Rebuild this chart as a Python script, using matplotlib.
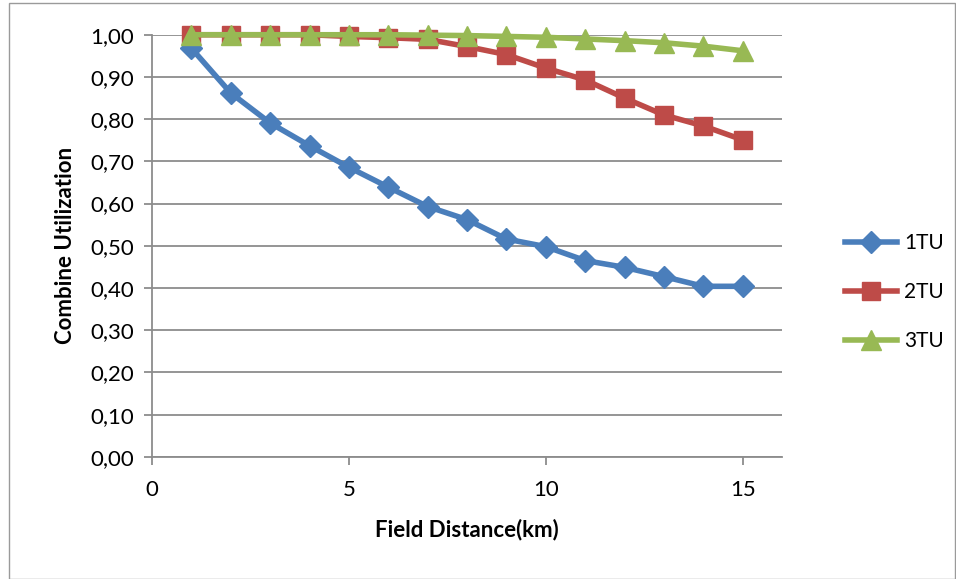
import matplotlib.pyplot as plt
from matplotlib.patches import Rectangle
from matplotlib.ticker import FuncFormatter

plt.rcParams['font.family'] = ['Lato', 'DejaVu Sans']

distance = [1, 2, 3, 4, 5, 6, 7, 8, 9, 10, 11, 12, 13, 14, 15]
tu1 = [0.968, 0.862, 0.791, 0.737, 0.686, 0.639, 0.593, 0.562, 0.516, 0.498,
       0.465, 0.449, 0.427, 0.404, 0.404]
tu2 = [1.0, 1.0, 1.0, 1.0, 0.996, 0.993, 0.989, 0.972, 0.953, 0.921,
       0.893, 0.850, 0.810, 0.784, 0.751]
tu3 = [1.0, 1.0, 1.0, 1.0, 1.0, 1.0, 0.999, 0.998, 0.996, 0.994,
       0.990, 0.986, 0.981, 0.973, 0.962]
labels = ['1TU', '2TU', '3TU']

fig = plt.figure(figsize=(9.56, 5.79), dpi=100)
ax = fig.add_axes([0.159, 0.211, 0.659, 0.729])

# light frame around the whole chart
fig.patches.append(Rectangle((0.009, 0.0), 0.99, 0.995, transform=fig.transFigure,
                             fill=False, edgecolor='#9a9a9a', linewidth=1.0))

ax.plot(distance, tu1, color='#4A7EBB', lw=4, marker='D', ms=11, label=labels[0])
ax.plot(distance, tu2, color='#BE4B48', lw=4, marker='s', ms=13, label=labels[1])
ax.plot(distance, tu3, color='#98B954', lw=4, marker='^', ms=14, label=labels[2])

ax.set_xlim(0, 16)
ax.set_ylim(0, 1.0)
ax.set_xticks([0, 5, 10, 15])
ax.set_yticks([i / 10 for i in range(11)])
ax.yaxis.set_major_formatter(FuncFormatter(lambda v, p: f'{v:.2f}'.replace('.', ',')))
ax.grid(axis='y', color='#8c8c8c', linewidth=1.3)
ax.set_axisbelow(True)
for ln in ax.lines:
    ln.set_clip_on(False)

for side in ['top', 'right']:
    ax.spines[side].set_visible(False)
for side in ['left', 'bottom']:
    ax.spines[side].set_color('#8c8c8c')
    ax.spines[side].set_linewidth(1.3)
ax.tick_params(colors='#8c8c8c', labelcolor='black', labelsize=16, length=6, width=1.3)
ax.tick_params(axis='y', pad=7)
ax.tick_params(axis='x', pad=11)

ax.set_xlabel('Field Distance(km)', fontsize=16, fontweight='bold', labelpad=13)
ax.set_ylabel('Combine Utilization', fontsize=16, fontweight='bold', labelpad=10)

ax.legend(loc='center left', bbox_to_anchor=(1.07, 0.39), frameon=False, fontsize=15,
          labelspacing=1.4, handlelength=2.5, handletextpad=0.35)

fig.savefig('out.png', dpi=100)
